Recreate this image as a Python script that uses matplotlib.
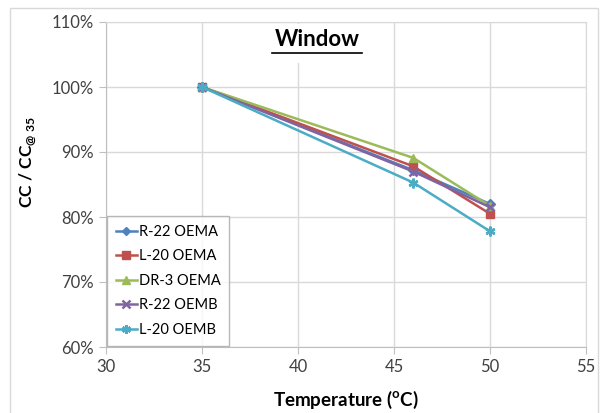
import matplotlib.pyplot as plt

plt.rcParams['font.family'] = ['Lato', 'DejaVu Sans']
plt.rcParams['mathtext.fontset'] = 'custom'
plt.rcParams['mathtext.rm'] = 'Lato'
plt.rcParams['mathtext.bf'] = 'Lato:bold'

temps = [35, 46, 50]
series_names = ['R-22 OEMA', 'L-20 OEMA', 'DR-3 OEMA', 'R-22 OEMB', 'L-20 OEMB']
r22_oema = [100.0, 87.2, 82.0]
l20_oema = [100.0, 87.8, 80.5]
dr3_oema = [100.0, 89.1, 81.7]
r22_oemb = [100.0, 87.0, 81.5]
l20_oemb = [100.0, 85.3, 77.8]
series_vals = [r22_oema, l20_oema, dr3_oema, r22_oemb, l20_oemb]

colors = ['#4F81BD', '#C0504D', '#9BBB59', '#8064A2', '#4BACC6']
markers = ['D', 's', '^', 'x', (6, 2, 0)]
msizes = [5, 6, 6, 6, 7]

fig = plt.figure(figsize=(6.08, 4.13), dpi=100)
ax = fig.add_axes([106/608, 1-347/413, 480/608, 325/413])

for name, vals, c, m, ms in zip(series_names, series_vals, colors, markers, msizes):
    ax.plot(temps, vals, color=c, marker=m, markersize=ms, linewidth=1.8,
            markeredgewidth=1.8 if m in ('x', (6, 2, 0)) else 1.0, label=name, zorder=3)

ax.set_xlim(30, 55)
ax.set_ylim(60, 110)
ax.set_xticks([30, 35, 40, 45, 50, 55])
ax.set_yticks([60, 70, 80, 90, 100, 110])
ax.set_yticklabels([f'{v}%' for v in [60, 70, 80, 90, 100, 110]])
ax.grid(True, color='#d9d9d9', linewidth=1)
ax.set_axisbelow(True)
for s in ['top', 'right']:
    ax.spines[s].set_color('#d9d9d9')
for s in ['left', 'bottom']:
    ax.spines[s].set_color('#bfbfbf')
ax.tick_params(axis='both', colors='#bfbfbf', labelcolor='#404040', labelsize=12, length=5)

ax.set_xlabel(r'Temperature ($^{\mathbf{o}}$C)', fontsize=13.5, fontweight='bold')
ax.xaxis.set_label_coords(0.5, -0.13)
ax.set_ylabel(r'CC / CC$_{\mathbf{@\ 35}}$', fontsize=12.5, fontweight='bold')
ax.yaxis.set_label_coords(-0.142, 0.57)

# title with white backing (gridline hidden behind it) and underline
ax.add_patch(plt.Rectangle((0.33, 0.875), 0.22, 0.12, transform=ax.transAxes,
                           facecolor='white', edgecolor='none', zorder=1))
ax.text(0.44, 0.947, 'Window', transform=ax.transAxes, ha='center', va='center',
        fontsize=16, fontweight='bold', zorder=4)
ax.plot([0.346, 0.533], [0.906, 0.906], transform=ax.transAxes, color='black',
        linewidth=1.2, zorder=4)

leg = ax.legend(loc='lower left', bbox_to_anchor=(0.0, 0.0), fontsize=10.5,
                handlelength=1.4, handletextpad=0.15, borderpad=0.6, labelspacing=0.72,
                borderaxespad=0.1, frameon=True, fancybox=False, markerscale=0.9)
leg.get_frame().set_edgecolor('#a6a6a6')
leg.get_frame().set_linewidth(1)

border = plt.Rectangle((10/608, -0.02), 588/608, 1.0, transform=fig.transFigure,
                       fill=False, edgecolor='#d9d9d9', linewidth=1)
fig.patches.append(border)

fig.savefig('out.png', dpi=100)
